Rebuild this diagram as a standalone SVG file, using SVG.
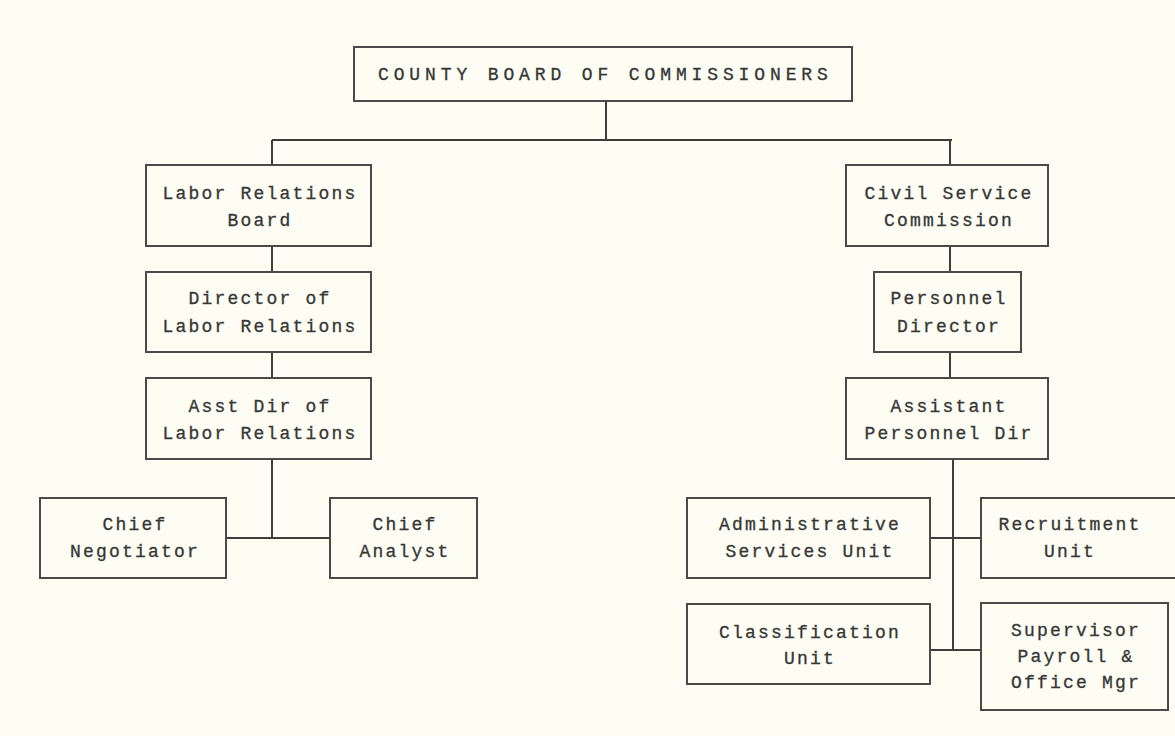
<svg xmlns="http://www.w3.org/2000/svg" width="1175" height="736" viewBox="0 0 1175 736">
<style>
.box{fill:none;stroke:#4a4a48;stroke-width:2}
.ln{fill:none;stroke:#3e3e3c;stroke-width:2}
text{font-family:"Liberation Mono","DejaVu Sans Mono",monospace;font-size:18px;fill:#363634;text-anchor:middle;letter-spacing:2.2px;stroke:#363634;stroke-width:0.3}
</style>
<rect width="1175" height="736" fill="#fdfdf4"/>
<g id="connectors">
<path class="ln" d="M606 101V140M272 140H952M272 140V165M950 140V165"/>
<path class="ln" d="M272 246V272M272 352V378M272 459V538M226 538H330"/>
<path class="ln" d="M950 246V272M950 352V378M953 459V650M930 538H981M930 650H981"/>
</g>
<g id="county-board"><rect class="box" x="354" y="47" width="498" height="54"/><text x="604" y="80" textLength="452">COUNTY BOARD OF COMMISSIONERS</text></g>
<g id="labor-relations-board"><rect class="box" x="146" y="165" width="225" height="81"/><text x="260" y="199">Labor Relations</text><text x="260" y="226">Board</text></g>
<g id="director-labor"><rect class="box" x="146" y="272" width="225" height="80"/><text x="260" y="304">Director of</text><text x="260" y="332">Labor Relations</text></g>
<g id="asst-dir-labor"><rect class="box" x="146" y="378" width="225" height="81"/><text x="260" y="412">Asst Dir of</text><text x="260" y="439">Labor Relations</text></g>
<g id="chief-negotiator"><rect class="box" x="40" y="498" width="186" height="80"/><text x="135" y="530">Chief</text><text x="135" y="557">Negotiator</text></g>
<g id="chief-analyst"><rect class="box" x="330" y="498" width="147" height="80"/><text x="405" y="530">Chief</text><text x="405" y="557">Analyst</text></g>
<g id="civil-service"><rect class="box" x="846" y="165" width="202" height="81"/><text x="949" y="199">Civil Service</text><text x="949" y="226">Commission</text></g>
<g id="personnel-director"><rect class="box" x="874" y="272" width="147" height="80"/><text x="949" y="304">Personnel</text><text x="949" y="332">Director</text></g>
<g id="assistant-personnel"><rect class="box" x="846" y="378" width="202" height="81"/><text x="949" y="412">Assistant</text><text x="949" y="439">Personnel Dir</text></g>
<g id="admin-services"><rect class="box" x="687" y="498" width="243" height="80"/><text x="810" y="530">Administrative</text><text x="810" y="557">Services Unit</text></g>
<g id="recruitment"><rect class="box" x="981" y="498" width="200" height="80"/><text x="1070" y="530">Recruitment</text><text x="1070" y="557">Unit</text></g>
<g id="classification"><rect class="box" x="687" y="604" width="243" height="80"/><text x="810" y="638">Classification</text><text x="810" y="664">Unit</text></g>
<g id="supervisor-payroll"><rect class="box" x="981" y="603" width="187" height="107"/><text x="1076" y="636">Supervisor</text><text x="1076" y="662">Payroll &amp;</text><text x="1076" y="688">Office Mgr</text></g>
</svg>
